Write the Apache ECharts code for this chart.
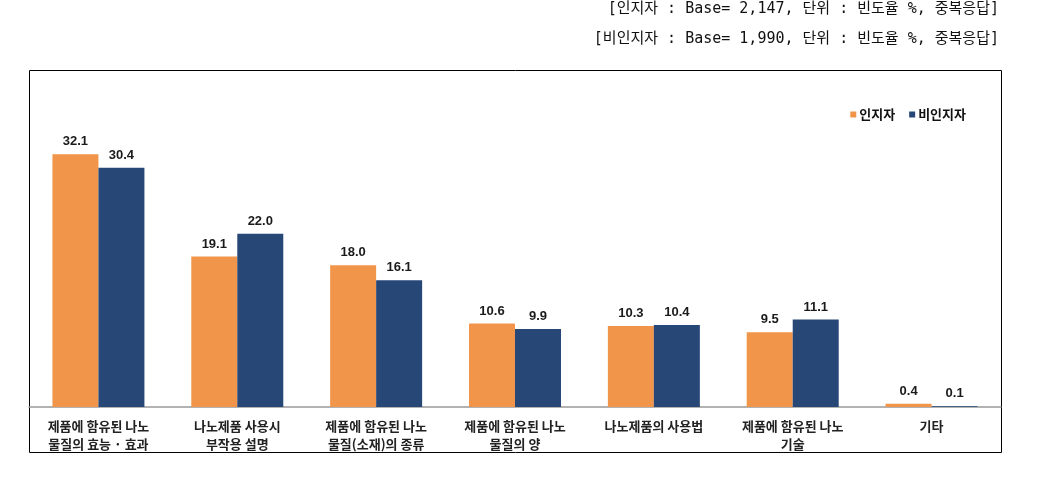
<!DOCTYPE html>
<html><head><meta charset="utf-8">
<script src="https://cdn.jsdelivr.net/npm/echarts@6/dist/echarts.min.js"></script>
<style>html,body{margin:0;padding:0;background:#fff}#c{width:1057px;height:488px}</style>
</head><body><div id="c"></div>
<script>
const categories = ['제품에 함유된 나노\n물질의 효능 · 효과','나노제품 사용시\n부작용 설명','제품에 함유된 나노\n물질(소재)의 종류','제품에 함유된 나노\n물질의 양','나노제품의 사용법','제품에 함유된 나노\n기술','기타'];
const aware = [32.1, 19.1, 18.0, 10.6, 10.3, 9.5, 0.4];
const unaware = [30.4, 22.0, 16.1, 9.9, 10.4, 11.1, 0.1];
const seriesNames = ['인지자','비인지자'];
const noteLines = ['[인지자 : Base= 2,147, 단위 : 빈도율 %, 중복응답]','[비인지자 : Base= 1,990, 단위 : 빈도율 %, 중복응답]'];

const font = '"Noto Sans CJK KR", "Noto Sans", sans-serif';
const noteFont = '15px "DejaVu Sans Mono", "Noto Sans CJK KR", monospace';
const chart = echarts.init(document.getElementById('c'));
const lbl = {show:true, position:'top', distance:6, fontFamily:'Arial, "Liberation Sans", sans-serif', fontWeight:'bold', fontSize:13, color:'#1a1a1a', formatter: p => p.value.toFixed(1)};
chart.setOption({
  animation:false,
  backgroundColor:'#fff',
  textStyle:{fontFamily:font},
  graphic:[
    {type:'rect', shape:{x:29.5,y:70.5,width:972,height:382}, style:{fill:'none', stroke:'#000', lineWidth:1}, z:-1},
    {type:'text', right:58, top:2, style:{text:noteLines[0], font:noteFont, fill:'#111', textAlign:'right'}},
    {type:'text', right:58, top:32, style:{text:noteLines[1], font:noteFont, fill:'#111', textAlign:'right'}}
  ],
  legend:{
    data:seriesNames, right:86, top:103, itemWidth:6, itemHeight:6, itemGap:14,
    icon:'rect',
    textStyle:{fontFamily:font, fontWeight:'bold', fontSize:13, color:'#111', padding:[0,0,0,-2]}
  },
  grid:{left:29, right:56, top:70, bottom:81},
  xAxis:{
    type:'category', data:categories,
    axisLine:{lineStyle:{color:'#999', width:1.5}},
    axisTick:{show:false},
    axisLabel:{interval:0, margin:10, fontFamily:font, fontWeight:'bold', fontSize:13, color:'#222', lineHeight:18}
  },
  yAxis:{type:'value', min:0, max:42.8, show:false, splitLine:{show:false}},
  series:[
    {name:seriesNames[0], type:'bar', data:aware, barWidth:46, barGap:'0%', itemStyle:{color:'#F0954A'}, label:lbl},
    {name:seriesNames[1], type:'bar', data:unaware, barWidth:46, barGap:'0%', itemStyle:{color:'#274777'}, label:lbl}
  ]
});
</script></body></html>
